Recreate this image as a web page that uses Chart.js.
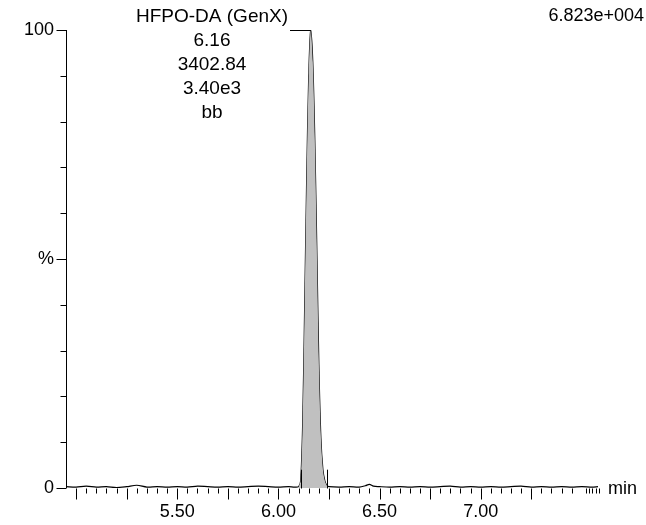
<!DOCTYPE html>
<html>
<head>
<meta charset="utf-8">
<script src="https://cdn.jsdelivr.net/npm/chart.js@4/dist/chart.umd.min.js"></script>
<style>
  body { margin: 0; background: #fff; }
  #wrap { width: 646px; height: 525px; }
</style>
</head>
<body>
<div id="wrap"><canvas id="chrom"></canvas></div>
<script>
// retention time (min) and relative intensity (%)
const baseTimes = [4.95, 5.00, 5.05, 5.10, 5.15, 5.20, 5.25, 5.30, 5.35, 5.40, 5.45, 5.50, 5.55, 5.60, 5.65, 5.70, 5.75, 5.80, 5.85, 5.90, 5.95, 6.00, 6.05, 6.08, 6.10];
const baseValues = [0.3, 0.2, 0.4, 0.2, 0.3, 0.1, 0.3, 0.6, 0.2, 0.3, 0.2, 0.3, 0.2, 0.4, 0.3, 0.2, 0.3, 0.2, 0.3, 0.4, 0.3, 0.2, 0.3, 0.2, 0.3];
const peakTimes = [6.11, 6.12, 6.13, 6.14, 6.15, 6.16, 6.17, 6.18, 6.19, 6.20, 6.21, 6.22, 6.23, 6.24];
const peakValues = [1.5, 14, 40, 68, 90, 100, 93, 76, 52, 27, 11, 4, 1.5, 0.5];
const tailTimes = [6.25, 6.30, 6.35, 6.40, 6.43, 6.45, 6.47, 6.50, 6.55, 6.60, 6.65, 6.70, 6.75, 6.80, 6.85, 6.90, 6.95, 7.00, 7.05, 7.10, 7.15, 7.20, 7.25, 7.30, 7.35, 7.40, 7.45, 7.50, 7.55, 7.58];
const tailValues = [0.3, 0.2, 0.3, 0.2, 0.5, 0.8, 0.4, 0.3, 0.2, 0.3, 0.2, 0.3, 0.2, 0.3, 0.4, 0.2, 0.3, 0.2, 0.3, 0.2, 0.3, 0.4, 0.2, 0.3, 0.2, 0.3, 0.2, 0.3, 0.2, 0.3];
const xLabels = [5.5, 6.0, 6.5, 7.0];
const peakInfo = ["HFPO-DA (GenX)", "6.16", "3402.84", "3.40e3", "bb"];
const peakMarks = [6.11, 6.24];
const scaleText = "6.823e+004";

const toPts = (t, v) => t.map((x, i) => ({ x: x, y: v[i] }));
const allPts = toPts(baseTimes, baseValues).concat(toPts(peakTimes, peakValues), toPts(tailTimes, tailValues));
const fillPts = [{ x: 6.10, y: 0.3 }].concat(toPts(peakTimes, peakValues));

const FONT = '"Liberation Sans", Arial, sans-serif';

const axesPlugin = {
  id: "axes",
  afterDatasetsDraw(chart) {
    const ctx = chart.ctx;
    const xs = chart.scales.x, ys = chart.scales.y;
    const a = chart.chartArea;
    ctx.save();
    ctx.strokeStyle = "#000";
    ctx.fillStyle = "#000";
    ctx.lineWidth = 1;
    ctx.font = "18px " + FONT;
    // y axis
    const xa = Math.round(a.left) + 0.5;
    ctx.beginPath();
    ctx.moveTo(xa, ys.getPixelForValue(0));
    ctx.lineTo(xa, ys.getPixelForValue(100));
    for (let v = 0; v <= 100; v += 10) {
      const y = Math.round(ys.getPixelForValue(v)) + 0.5;
      const len = (v % 50 === 0) ? 10 : 6;
      ctx.moveTo(xa - len, y);
      ctx.lineTo(xa, y);
    }
    ctx.stroke();
    ctx.textAlign = "right";
    ctx.textBaseline = "middle";
    ctx.fillText("100", a.left - 12, ys.getPixelForValue(100));
    ctx.fillText("%", a.left - 12, ys.getPixelForValue(50));
    ctx.fillText("0", a.left - 12, ys.getPixelForValue(0));
    // x ticks
    const yb = Math.round(ys.getPixelForValue(0)) + 0.5;
    ctx.beginPath();
    for (let i = 100; i <= 150; i++) {
      const t = i * 0.05;
      if (t > 7.47) break;
      const x = Math.round(xs.getPixelForValue(t)) + 0.5;
      const len = (i % 5 === 0) ? 11 : 5;
      ctx.moveTo(x, yb);
      ctx.lineTo(x, yb + len);
    }
    // dense ticks at far right
    for (let t = 7.52; t <= 7.585; t += 0.016) {
      const x = Math.round(xs.getPixelForValue(t)) + 0.5;
      ctx.moveTo(x, yb);
      ctx.lineTo(x, yb + 5);
    }
    // peak baseline marks
    peakMarks.forEach(t => {
      const x = Math.round(xs.getPixelForValue(t)) + 0.5;
      ctx.moveTo(x, yb);
      ctx.lineTo(x, ys.getPixelForValue(4));
    });
    ctx.stroke();
    ctx.textAlign = "center";
    ctx.textBaseline = "top";
    xLabels.forEach(t => ctx.fillText(t.toFixed(2), xs.getPixelForValue(t), yb + 15));
    ctx.textAlign = "left";
    ctx.textBaseline = "middle";
    ctx.fillText("min", a.right + 10, yb + 1);
    // peak annotation
    const top = ys.getPixelForValue(100);
    ctx.textAlign = "center";
    ctx.font = "19px " + FONT;
    const cx = 212;
    peakInfo.forEach((s, i) => ctx.fillText(s, cx, top - 13 + i * 24));
    const w = ctx.measureText(peakInfo[0]).width;
    ctx.beginPath();
    ctx.moveTo(cx + w / 2 + 2, top + 0.5);
    ctx.lineTo(xs.getPixelForValue(6.16), top + 0.5);
    ctx.stroke();
    ctx.textAlign = "right";
    ctx.font = "18px " + FONT;
    ctx.fillText(scaleText, 644, top - 14);
    ctx.restore();
  }
};

new Chart(document.getElementById("chrom"), {
  type: "line",
  data: {
    datasets: [{
      data: fillPts,
      borderWidth: 0,
      pointRadius: 0,
      backgroundColor: "#c0c0c0",
      fill: "origin",
      tension: 0.3
    }, {
      data: allPts,
      borderColor: "#000",
      borderWidth: 1.2,
      pointRadius: 0,
      fill: false,
      tension: 0.3
    }]
  },
  options: {
    responsive: true,
    maintainAspectRatio: false,
    animation: false,
    layout: { padding: { left: 66, right: 48, top: 30, bottom: 37 } },
    plugins: { legend: { display: false }, tooltip: { enabled: false } },
    scales: {
      x: { type: "linear", min: 4.95, max: 7.58, display: false },
      y: { min: 0, max: 100, display: false }
    }
  },
  plugins: [axesPlugin]
});
</script>
</body>
</html>
